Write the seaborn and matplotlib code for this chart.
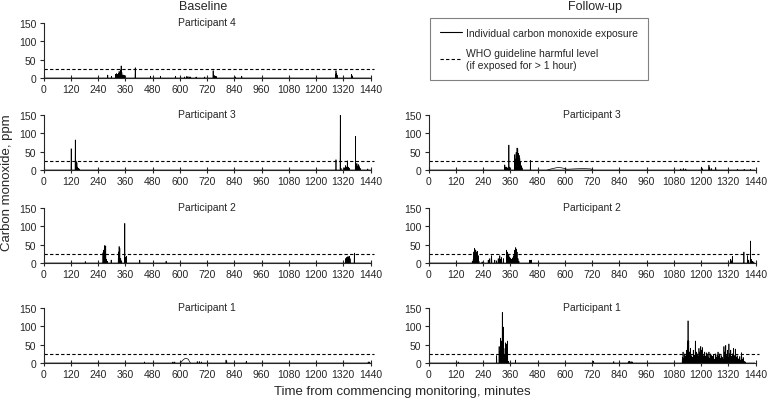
import numpy as np
import pandas as pd
import matplotlib
matplotlib.use("Agg")
import matplotlib.pyplot as plt
from matplotlib.lines import Line2D
import seaborn as sns

WHO_LEVEL = 25
X_TICKS = list(range(0, 1441, 120))
Y_TICKS = [0, 50, 100, 150]

# baseline, participant 4
bl_p4_t = [283, 299, 318, 322, 326, 330, 333, 337, 340, 342, 345, 349, 352, 356, 404, 471, 515, 581,
           621, 630, 636, 642, 648, 672, 710, 747, 750, 754, 758, 762, 845, 873, 1286, 1288, 1290, 1293,
           1356, 1358, 1361]
bl_p4_v = [8, 5, 10, 12, 10, 12, 18, 14, 22, 33, 15, 8, 8, 7, 28, 5, 5, 5,
           3, 4, 4, 3, 3, 3, 3, 20, 8, 6, 5, 4, 3, 5, 10, 20, 12, 8,
           10, 7, 5]

# baseline, participant 3
bl_p3_t = [122, 140, 143, 147, 150, 154, 157, 1288, 1307, 1310, 1326, 1330, 1334, 1338, 1342, 1346,
           1374, 1377, 1380, 1383, 1386, 1389, 1392, 1395, 1428]
bl_p3_v = [58, 82, 25, 20, 8, 5, 3, 28, 150, 5, 6, 12, 8, 25, 8, 5,
           92, 12, 18, 10, 15, 12, 8, 4, 3]

# baseline, participant 2
bl_p2_t = [184, 262, 265, 268, 271, 274, 277, 282, 298, 330, 333, 336, 340, 344, 358, 362, 365, 424, 540,
           1330, 1334, 1338, 1341, 1344, 1347, 1350, 1369]
bl_p2_v = [4, 28, 35, 47, 47, 46, 10, 5, 8, 30, 45, 40, 12, 6, 108, 15, 18, 8, 5,
           12, 15, 14, 18, 16, 18, 12, 27]

# baseline, participant 1
bl_p1_t = [445, 570, 578, 677, 686, 695, 804, 807, 893, 1430, 1434]
bl_p1_v = [3, 3, 3, 4, 4, 3, 8, 4, 5, 3, 3]
bl_p1_hump_t = [603, 608, 614, 620, 626, 632, 638, 642, 647]
bl_p1_hump_v = [0, 4, 8, 11, 13, 12, 10, 5, 0]

# follow-up, participant 3
fu_p3_t = [336, 339, 343, 347, 354, 357, 380, 383, 386, 390, 393, 396, 399, 402, 405, 408, 412, 449,
           1111, 1122, 1133, 1202, 1205, 1235, 1238, 1245, 1265, 1360, 1390, 1418]
fu_p3_v = [14, 8, 8, 6, 68, 8, 42, 30, 48, 60, 58, 45, 40, 32, 22, 12, 6, 26,
           3, 4, 3, 8, 4, 13, 6, 4, 7, 2, 2, 2]
fu_p3_hump_t = [524, 540, 555, 570, 585, 600, 610, 640, 680, 715, 724]
fu_p3_hump_v = [0, 3, 5, 7, 6, 4, 2, 3, 4, 3, 0]

# follow-up, participant 2
fu_p2_t = [193, 197, 200, 202, 205, 208, 212, 215, 219, 222, 236, 263, 270, 278, 292, 300, 307, 314, 318,
           322, 330, 344, 347, 350, 354, 358, 362, 366, 370, 374, 376, 380, 384, 387, 390, 394, 398,
           446, 450, 453, 1330, 1334, 1338, 1389, 1405, 1410, 1418, 1421, 1426, 1432]
fu_p2_v = [5, 10, 30, 40, 36, 35, 30, 32, 20, 5, 3, 8, 12, 20, 8, 6, 12, 20, 10,
           15, 12, 35, 30, 25, 20, 15, 12, 10, 14, 20, 12, 35, 42, 38, 30, 12, 5,
           8, 7, 8, 10, 6, 18, 30, 20, 8, 60, 10, 5, 3]

# follow-up, participant 1
fu_p1_t = [131, 300, 311, 314, 317, 319, 322, 325, 329, 332, 335, 339, 342, 345, 348, 352, 383,
           727, 816, 880, 886, 892, 898,
           1118, 1121, 1125, 1129, 1133, 1137, 1140, 1143, 1146, 1150, 1154, 1158, 1162, 1166, 1170,
           1175, 1179, 1183, 1187, 1191, 1195, 1199, 1203, 1207, 1211, 1215, 1219, 1223, 1227, 1231,
           1235, 1239, 1243, 1247, 1251, 1255, 1259, 1263, 1267, 1271, 1275, 1279, 1283, 1287, 1291,
           1295, 1298, 1301, 1305, 1309, 1313, 1317, 1320, 1323, 1327, 1331, 1335, 1339, 1343, 1347,
           1351, 1355, 1359, 1363, 1367, 1371, 1375, 1379, 1382, 1386, 1390, 1396]
fu_p1_v = [3, 20, 45, 30, 68, 40, 60, 138, 98, 40, 20, 55, 52, 30, 60, 5, 8,
           5, 4, 4, 5, 4, 3,
           15, 30, 12, 25, 18, 35, 60, 115, 60, 30, 40, 20, 15, 35, 22,
           60, 30, 25, 18, 40, 30, 45, 35, 42, 20, 30, 18, 28, 25, 15,
           30, 12, 25, 20, 18, 22, 10, 25, 15, 22, 30, 18, 25, 12, 20,
           15, 10, 45, 30, 48, 20, 35, 15, 52, 25, 35, 18, 25, 40, 20,
           38, 15, 20, 12, 10, 18, 8, 28, 10, 15, 5, 3]

PANELS = [
    # (row, col, participant, spike times, spike values, hump times, hump values)
    (0, 0, 4, bl_p4_t, bl_p4_v, None, None),
    (1, 0, 3, bl_p3_t, bl_p3_v, None, None),
    (2, 0, 2, bl_p2_t, bl_p2_v, None, None),
    (3, 0, 1, bl_p1_t, bl_p1_v, bl_p1_hump_t, bl_p1_hump_v),
    (1, 1, 3, fu_p3_t, fu_p3_v, fu_p3_hump_t, fu_p3_hump_v),
    (2, 1, 2, fu_p2_t, fu_p2_v, None, None),
    (3, 1, 1, fu_p1_t, fu_p1_v, None, None),
]


def spike_series(times, peaks):
    # one-minute spikes on a zero baseline
    pts = {0: 0.0, 1440: 0.0}
    for t in times:
        pts.setdefault(t - 1, 0.0)
        pts.setdefault(t + 1, 0.0)
    for t, v in zip(times, peaks):
        pts[t] = float(v)
    df = pd.DataFrame(sorted(pts.items()), columns=["minute", "ppm"])
    return df


sns.set_style("ticks")
plt.rcParams["font.family"] = ["Liberation Sans", "DejaVu Sans"]
plt.rcParams["axes.linewidth"] = 0.8

fig = plt.figure(figsize=(7.72, 4.02), dpi=100)

col_left = [43.5 / 772, 428.5 / 772]
row_bottom = [1 - 79 / 402, 1 - 171 / 402, 1 - 264 / 402, 1 - 364 / 402]
ax_w = 327 / 772
ax_h = 55 / 402

for row, col, who, t, v, ht, hv in PANELS:
    ax = fig.add_axes([col_left[col], row_bottom[row], ax_w, ax_h])
    df = spike_series(t, v)
    sns.lineplot(data=df, x="minute", y="ppm", ax=ax, color="black", lw=0.5, estimator=None)
    if ht is not None:
        hump = pd.DataFrame({"minute": ht, "ppm": hv})
        sns.lineplot(data=hump, x="minute", y="ppm", ax=ax, color="black", lw=0.5, estimator=None)
    ax.axhline(WHO_LEVEL, color="black", lw=0.8, ls=(0, (3, 2)), xmax=1.01, clip_on=False)
    ax.set_xlim(0, 1440)
    ax.set_ylim(0, 150)
    ax.set_xticks(X_TICKS)
    ax.set_yticks(Y_TICKS)
    ax.tick_params(axis="x", direction="inout", length=4, width=0.8, labelsize=7.5, pad=2)
    ax.tick_params(axis="y", direction="out", length=3, width=0.8, labelsize=7.5, pad=2)
    ax.set_xlabel("")
    ax.set_ylabel("")
    sns.despine(ax=ax)
    ax.text(0.5, 1.02, f"Participant {who}", transform=ax.transAxes, ha="center", va="center", fontsize=7.5)

fig.text(203 / 772, 1 - 7 / 402, "Baseline", ha="center", va="center", fontsize=9)
fig.text(595 / 772, 1 - 7 / 402, "Follow-up", ha="center", va="center", fontsize=9)
fig.text(7.5 / 772, 1 - 183 / 402, "Carbon monoxide, ppm", rotation=90, ha="center", va="center", fontsize=9.5)
fig.text(402 / 772, 1 - 392 / 402, "Time from commencing monitoring, minutes", ha="center", va="center",
         fontsize=9.5)

handles = [Line2D([], [], color="black", lw=0.8),
           Line2D([], [], color="black", lw=0.8, ls=(0, (3, 2)))]
labels = ["Individual carbon monoxide exposure", "WHO guideline harmful level\n(if exposed for > 1 hour)"]
leg = fig.legend(handles, labels, loc="upper left", bbox_to_anchor=(430 / 772, 1 - 19 / 402),
                 frameon=True, fancybox=False, edgecolor="#808080", framealpha=1, fontsize=7.5,
                 handlelength=2.1, handletextpad=0.45, borderpad=0.95, labelspacing=1.0, borderaxespad=0)
leg.get_frame().set_linewidth(0.8)

fig.savefig("out.png", dpi=100)
